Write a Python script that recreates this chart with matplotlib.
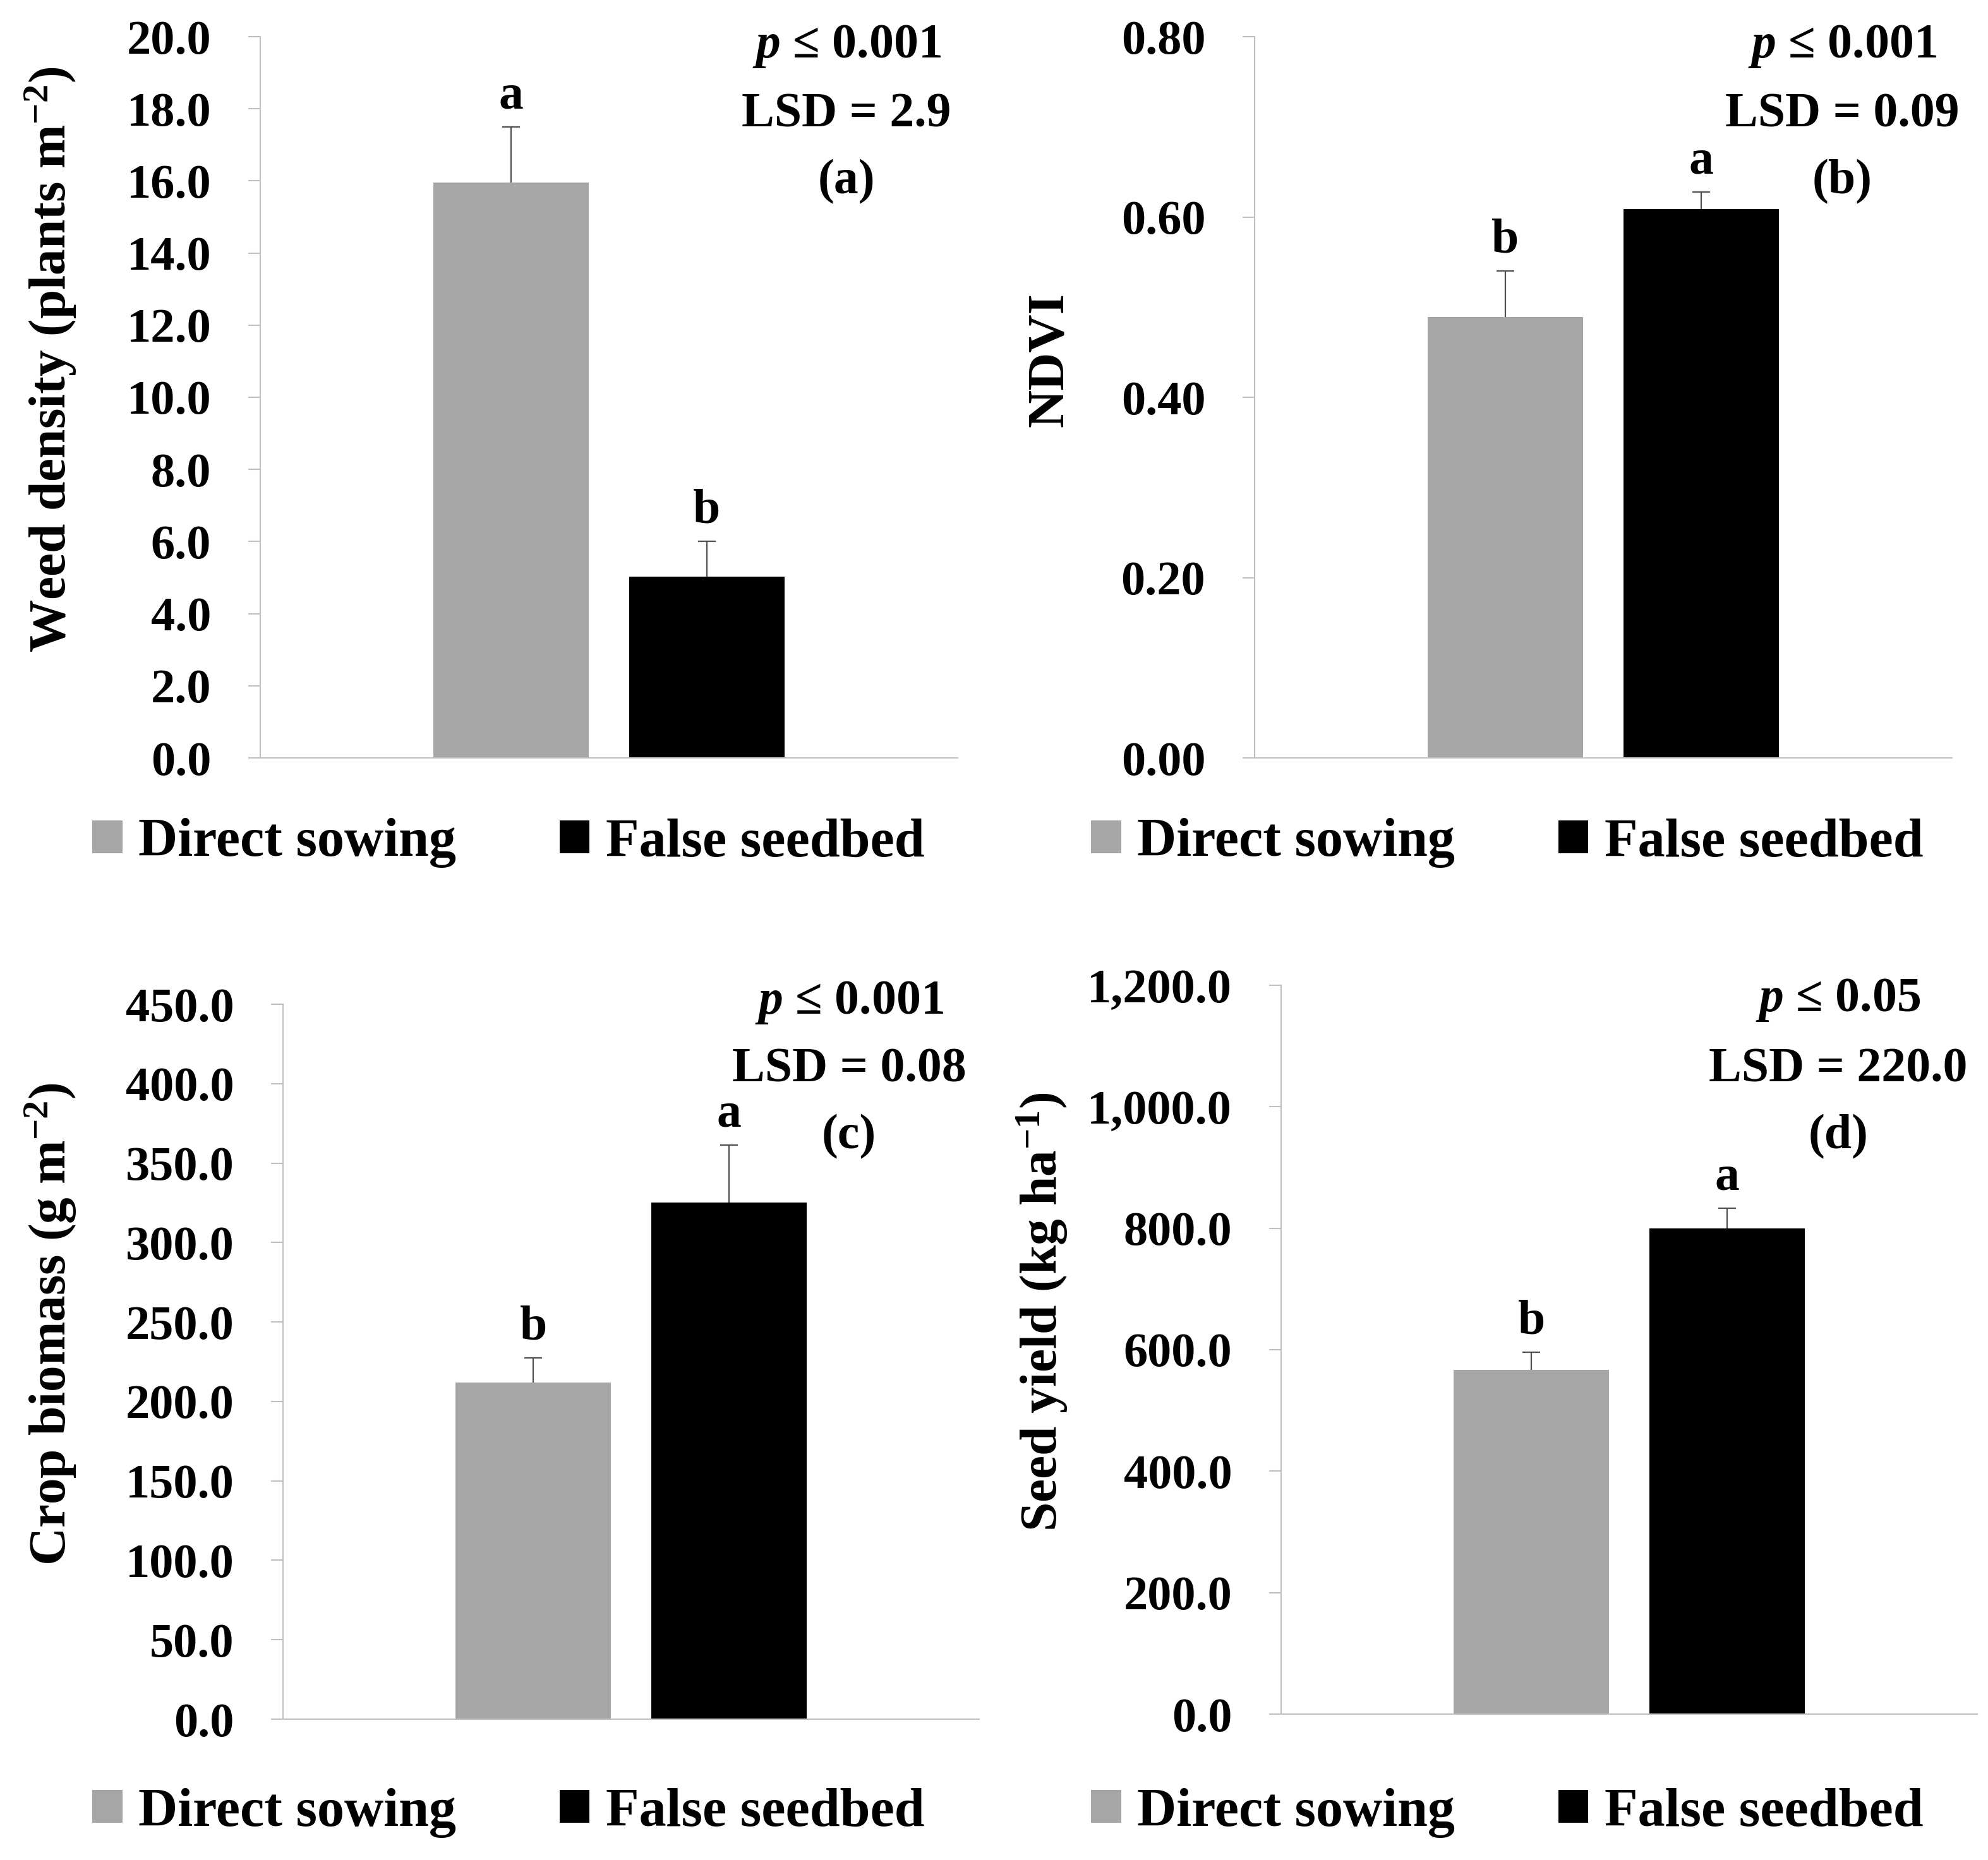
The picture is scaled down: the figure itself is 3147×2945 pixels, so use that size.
import matplotlib
matplotlib.use("Agg")
import matplotlib.pyplot as plt
from matplotlib.patches import Patch

# treatments and colours
treatments = ["Direct sowing", "False seedbed"]
bar_colors = ["#A6A6A6", "#000000"]

# panel (a) weed density
weed_mean = [15.95, 5.03]
weed_err = [1.55, 0.97]
weed_letters = ["a", "b"]
weed_ticks = [0, 2, 4, 6, 8, 10, 12, 14, 16, 18, 20]

# panel (b) NDVI
ndvi_mean = [0.489, 0.609]
ndvi_err = [0.051, 0.019]
ndvi_letters = ["b", "a"]
ndvi_ticks = [0.0, 0.2, 0.4, 0.6, 0.8]

# panel (c) crop biomass
bio_mean = [211.7, 325.0]
bio_err = [15.8, 36.5]
bio_letters = ["b", "a"]
bio_ticks = [0, 50, 100, 150, 200, 250, 300, 350, 400, 450]

# panel (d) seed yield
yield_mean = [567.0, 800.0]
yield_err = [29.0, 33.0]
yield_letters = ["b", "a"]
yield_ticks = [0, 200, 400, 600, 800, 1000, 1200]

plt.rcParams["font.family"] = ["Liberation Serif", "DejaVu Serif"]
plt.rcParams["font.weight"] = "bold"
plt.rcParams["mathtext.fontset"] = "custom"
plt.rcParams["mathtext.rm"] = "Liberation Serif:bold"
plt.rcParams["mathtext.bf"] = "Liberation Serif:bold"
plt.rcParams["mathtext.it"] = "Liberation Serif:italic"

W, H = 3147, 2945
fig = plt.figure(figsize=(W / 100, H / 100), dpi=100)

AXIS_GRAY = "#BFBFBF"
TICK_FS = 55
LABEL_FS = 60
LEGEND_FS = 62
NOTE_FS = 56


def px_box(left, top, right, bottom):
    return [left / W, 1 - bottom / H, (right - left) / W, (bottom - top) / H]


def draw_panel(box, means, errs, letters, ticks, fmt, ylabel, label_x,
               note_x, note_ys, p_text, lsd_text, tag, legend_xy):
    ax = fig.add_axes(px_box(*box))
    width = 0.2234
    offset = 0.1405
    xs = [0.5 - offset, 0.5 + offset]
    ax.bar(xs, means, width=width, color=bar_colors, zorder=2)
    tops = [m + e for m, e in zip(means, errs)]
    ax.vlines(xs, means, tops, color="#505050", linewidth=1.6, zorder=1)
    ax.plot(xs, tops, linestyle="none", marker="_", markersize=20,
            markeredgewidth=1.6, color="#505050", zorder=1)
    for x, t, lt in zip(xs, tops, letters):
        ax.annotate(lt, (x, t), xytext=(0, 9), textcoords="offset points",
                    ha="center", va="bottom", fontsize=NOTE_FS, fontweight="bold")

    ax.set_xlim(0, 1)
    ax.set_ylim(ticks[0], ticks[-1])
    ax.set_yticks(ticks)
    ax.set_yticklabels([fmt.format(t) for t in ticks])
    ax.set_xticks([])
    for s in ["top", "right"]:
        ax.spines[s].set_visible(False)
    for s in ["left", "bottom"]:
        ax.spines[s].set_color(AXIS_GRAY)
        ax.spines[s].set_linewidth(1.5)
    ax.tick_params(axis="y", direction="out", length=14, width=1.5,
                   color=AXIS_GRAY, pad=42, labelsize=TICK_FS)

    cy = (box[1] + box[3]) / 2 - 60
    fig.text(label_x / W, 1 - cy / H, ylabel, rotation=90, ha="center",
             va="center", fontsize=LABEL_FS, fontweight="bold")

    for ny, txt in zip(note_ys, [p_text, lsd_text, tag]):
        fig.text(note_x / W, 1 - ny / H, txt, ha="center", va="center",
                 fontsize=NOTE_FS, fontweight="bold")

    handles = [Patch(facecolor=c, edgecolor="none") for c in bar_colors]
    fig.legend(handles, treatments, loc="center", ncol=2, frameon=False,
               bbox_to_anchor=(legend_xy[0] / W, 1 - legend_xy[1] / H),
               fontsize=LEGEND_FS, handlelength=0.55, handleheight=0.55,
               handletextpad=0.3, columnspacing=1.9)
    return ax


draw_panel((412, 58, 1516, 1200), weed_mean, weed_err, weed_letters,
           weed_ticks, "{:.1f}", r"Weed density (plants m$^{-2}$)", 80,
           1340, (74, 182, 288), r"$p$ ≤ 0.001", "LSD = 2.9", "(a)",
           (805, 1335))

draw_panel((1986, 58, 3090, 1200), ndvi_mean, ndvi_err, ndvi_letters,
           ndvi_ticks, "{:.2f}", "NDVI", 1662,
           2916, (74, 182, 288), r"$p$ ≤ 0.001", "LSD = 0.09", "(b)",
           (2386, 1335))

draw_panel((448, 1590, 1550, 2722), bio_mean, bio_err, bio_letters,
           bio_ticks, "{:.1f}", r"Crop biomass (g m$^{-2}$)", 80,
           1344, (1588, 1694, 1800), r"$p$ ≤ 0.001", "LSD = 0.08", "(c)",
           (805, 2870))

draw_panel((2028, 1560, 3130, 2714), yield_mean, yield_err, yield_letters,
           yield_ticks, "{:,.1f}", r"Seed yield (kg ha$^{-1}$)", 1650,
           2910, (1584, 1694, 1800), r"$p$ ≤ 0.05", "LSD = 220.0", "(d)",
           (2386, 2870))

fig.savefig("out.png", dpi=100)
